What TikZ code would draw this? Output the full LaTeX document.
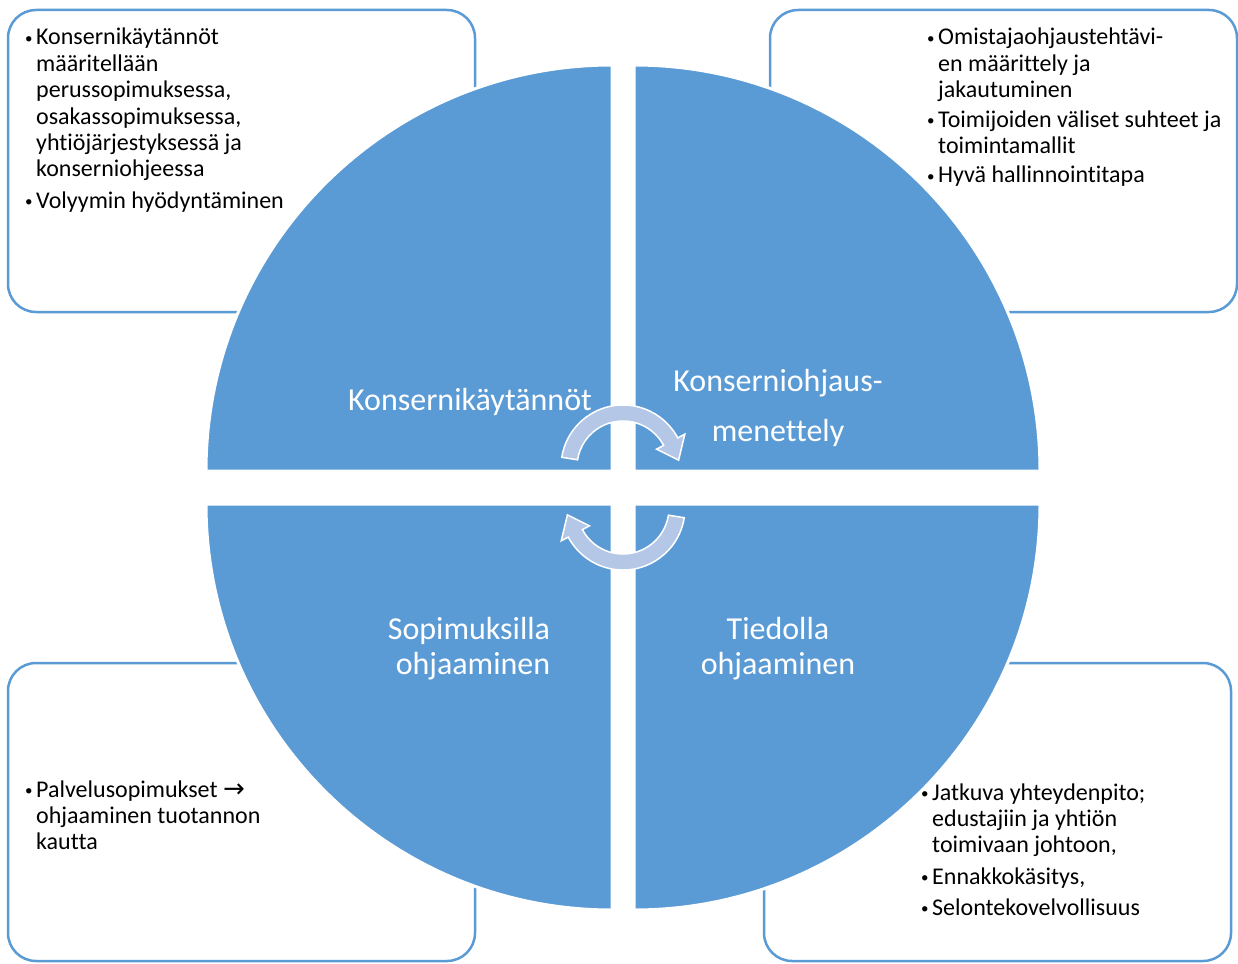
\documentclass[tikz,border=0pt]{standalone}
\usepackage{fontspec}
\setmainfont{Carlito}[Ligatures=NoCommon]
\newfontfamily\arrowfont{DejaVu Sans}
\definecolor{qblue}{HTML}{5B9BD5}
\definecolor{arrowblue}{HTML}{B4C7E7}
\newcommand\bul{\makebox[12pt][l]{\hspace{1pt}\raisebox{1.5pt}{\fontsize{15}{15}\selectfont\textbullet}}}
\tikzset{
  infobox/.style={draw=qblue, line width=2.5pt, rounded corners=28pt, fill=white},
  quad/.style={fill=qblue, draw=white, line width=3pt},
  cyc/.style={fill=arrowblue, draw=white, line width=1.5pt},
  boxtext/.style={anchor=base west, inner sep=0pt, text=black, font=\fontsize{24}{26.35}\selectfont},
  qlabel/.style={anchor=base, inner sep=0pt, text=white, font=\fontsize{32}{38}\selectfont},
}
\begin{document}
\begin{tikzpicture}[x=1pt,y=1pt]
\useasboundingbox (0,0) rectangle (1238,-963);
% info boxes
\draw[infobox] (8,-10) rectangle (475,-312);
\draw[infobox] (770,-10) rectangle (1237,-312);
\draw[infobox] (8,-663) rectangle (475,-961);
\draw[infobox] (764,-663) rectangle (1231,-961);
% quadrants
\path[quad] (612,-471) -- (206,-471) arc[start angle=180, end angle=90, radius=406] -- cycle;
\path[quad] (634,-471) -- (634,-65) arc[start angle=90, end angle=0, radius=406] -- cycle;
\path[quad] (612,-504) -- (206,-504) arc[start angle=180, end angle=270, radius=406] -- cycle;
\path[quad] (634,-504) -- (1040,-504) arc[start angle=0, end angle=-90, radius=406] -- cycle;
% cycle arrows
\path[cyc, shift={(623,-467)}] (171:62) arc[start angle=171, end angle=28, radius=62]
  -- (28:70) -- (7:56) -- (28:38) -- (28:46) arc[start angle=28, end angle=171, radius=46] -- cycle;
\begin{scope}[rotate around={180:(623,-487.5)}]
\path[cyc, shift={(623,-467)}] (171:62) arc[start angle=171, end angle=28, radius=62]
  -- (28:70) -- (7:56) -- (28:38) -- (28:46) arc[start angle=28, end angle=171, radius=46] -- cycle;
\end{scope}
% quadrant labels
\node[qlabel] (q1) at (470,-410) {Konsernikäytännöt};
\node[qlabel] (q2a) at (778,-391) {Konserniohjaus-};
\node[qlabel] (q2b) at (778,-441) {menettely};
\node[qlabel] (q3a) at (469,-639) {Sopimuksilla};
\node[qlabel] (q3b) at (473,-674) {ohjaaminen};
\node[qlabel] (q4a) at (778,-639) {Tiedolla};
\node[qlabel] (q4b) at (778,-674) {ohjaaminen};
% box texts
\node[boxtext] (t1) at (24,-45) {\begin{tabular}[t]{@{}l@{}l@{}}
\bul & Konsernikäytännöt\\
 & määritellään\\
 & perussopimuksessa,\\
 & osakassopimuksessa,\\
 & yhtiöjärjestyksessä ja\\
 & konserniohjeessa\\[5pt]
\bul & Volyymin hyödyntäminen
\end{tabular}};
\node[boxtext] (t2) at (926,-45) {\begin{tabular}[t]{@{}l@{}l@{}}
\bul & Omistajaohjaustehtävi-\\
 & en määrittely ja\\
 & jakautuminen\\[3pt]
\bul & Toimijoiden väliset suhteet ja\\
 & toimintamallit\\[3pt]
\bul & Hyvä hallinnointitapa
\end{tabular}};
\node[boxtext] (t3) at (24,-797) {\begin{tabular}[t]{@{}l@{}l@{}}
\bul & Palvelusopimukset {\arrowfont\fontsize{26}{26}\selectfont →}\\
 & ohjaaminen tuotannon\\
 & kautta
\end{tabular}};
\node[boxtext] (t4) at (920,-800) {\begin{tabular}[t]{@{}l@{}l@{}}
\bul & Jatkuva yhteydenpito;\\
 & edustajiin ja yhtiön\\
 & toimivaan johtoon,\\[5pt]
\bul & Ennakkokäsitys,\\[5pt]
\bul & Selontekovelvollisuus
\end{tabular}};
\end{tikzpicture}
\end{document}
